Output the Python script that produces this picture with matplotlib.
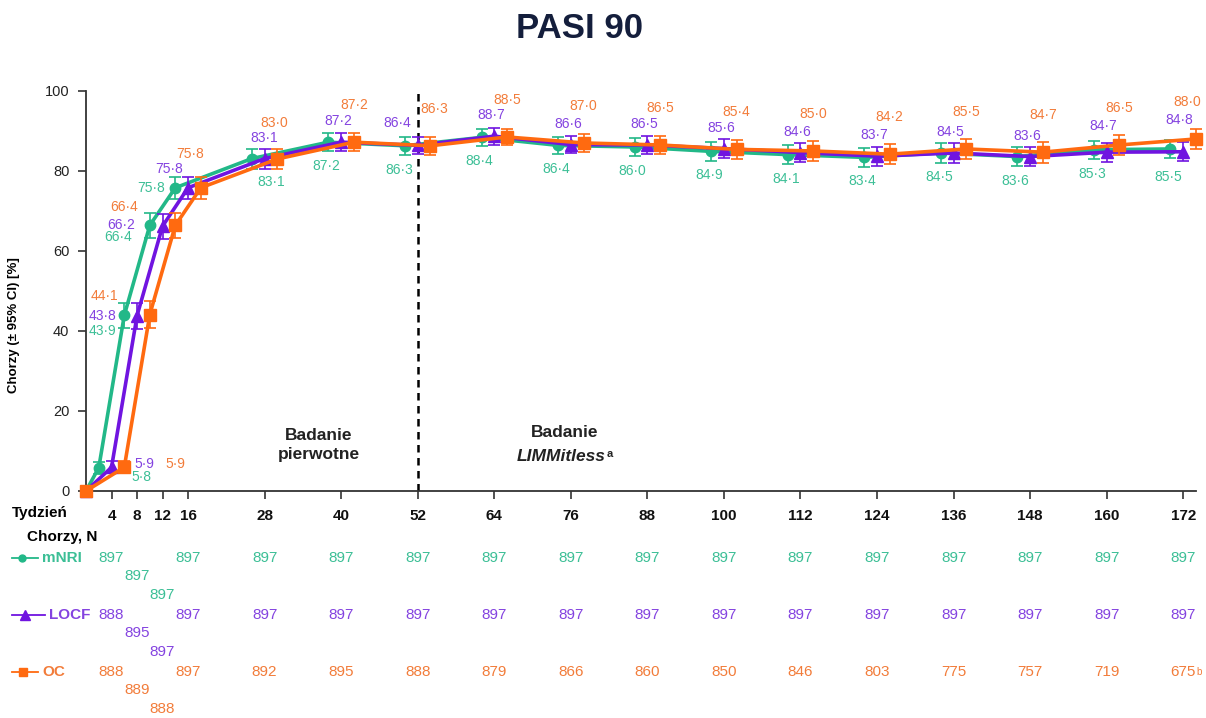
import matplotlib
matplotlib.use('Agg')
import matplotlib.pyplot as plt
from matplotlib.lines import Line2D

# PASI 90 response over time, three imputation methods
weeks = [0, 4, 8, 12, 16, 28, 40, 52, 64, 76, 88, 100, 112, 124, 136, 148, 160, 172]
mnri = [0, 5.8, 43.9, 66.4, 75.8, 83.1, 87.2, 86.3, 88.4, 86.4, 86.0, 84.9, 84.1, 83.4, 84.5, 83.6, 85.3, 85.5]
locf = [0, 5.9, 43.8, 66.2, 75.8, 83.1, 87.2, 86.4, 88.7, 86.6, 86.5, 85.6, 84.6, 83.7, 84.5, 83.6, 84.7, 84.8]
oc = [0, 5.9, 44.1, 66.4, 75.8, 83.0, 87.2, 86.3, 88.5, 87.0, 86.5, 85.4, 85.0, 84.2, 85.5, 84.7, 86.5, 88.0]
# 95% CI half widths
mnri_ci = [0, 1.5, 3.2, 3.1, 2.8, 2.5, 2.2, 2.3, 2.1, 2.2, 2.3, 2.3, 2.4, 2.4, 2.4, 2.4, 2.3, 2.3]
locf_ci = [0, 1.5, 3.3, 3.1, 2.8, 2.5, 2.2, 2.2, 2.1, 2.2, 2.2, 2.3, 2.4, 2.4, 2.4, 2.4, 2.4, 2.4]
oc_ci = [0, 1.5, 3.3, 3.1, 2.8, 2.5, 2.2, 2.3, 2.1, 2.2, 2.3, 2.4, 2.4, 2.5, 2.5, 2.6, 2.5, 2.5]

# patients at risk per week (weeks 4..172)
n_weeks = weeks[1:]
n_mnri = ['897', '897', '897', '897', '897', '897', '897', '897', '897', '897', '897', '897', '897', '897', '897', '897', '897']
n_locf = ['888', '895', '897', '897', '897', '897', '897', '897', '897', '897', '897', '897', '897', '897', '897', '897', '897']
n_oc = ['888', '889', '888', '897', '892', '895', '888', '879', '866', '860', '850', '846', '803', '775', '757', '719', '675']

GREEN = '#22b888'
GREEN_T = '#3cbf96'
PURPLE = '#7014e0'
PURPLE_T = '#8443e0'
ORANGE = '#ff6a10'
ORANGE_T = '#f27c3a'

series = [
    ('mNRI', mnri, mnri_ci, GREEN, GREEN_T, 'o', 7.5, -2, (-2, -24)),
    ('LOCF', locf, locf_ci, PURPLE, PURPLE_T, '^', 8.5, 0, (-3, 21)),
    ('OC', oc, oc_ci, ORANGE, ORANGE_T, 's', 8, 2, (0, 37)),
]

# label offsets (pixels) where the default placement is not used
label_offsets = {
    'mNRI': {1: (43, -9), 2: (-22, -16), 3: (-32, -12), 4: (-24, 0), 5: (19, -23), 7: (-6, -24), 17: (-2, -28)},
    'LOCF': {1: (33, 3), 2: (-35, 0), 3: (-41, 1), 4: (-19, 19), 5: (0, 21), 7: (-20, 22), 16: (-3, 26), 17: (-4, 32)},
    'OC': {1: (51, 3), 2: (-45, 19), 3: (-51, 18), 4: (-11, 34), 5: (-3, 36), 7: (4, 37), 17: (-9, 37)},
}

plt.rcParams['font.family'] = ['Liberation Sans', 'DejaVu Sans']

fig = plt.figure(figsize=(12.06, 7.18), dpi=100)
ax = fig.add_axes([86 / 1206, 0.3162, 1110 / 1206, 0.5571])
ax.set_xlim(0, 174)
ax.set_ylim(0, 100)

def fmt(v):
    return f'{v:.1f}'.replace('.', '·')

for z, (name, vals, ci, col, tcol, mk, ms, dodge, dflt) in enumerate(series):
    xs = [w + dodge if w > 0 else 0 for w in weeks]
    ax.errorbar(xs[1:], vals[1:], yerr=ci[1:], fmt='none', ecolor=col, elinewidth=1.2,
                capsize=4, capthick=1.2, zorder=3 + z, clip_on=False)
    ax.plot(xs, vals, color=col, lw=2.6, marker=mk, ms=ms, mec=col, mfc=col,
            zorder=3 + z, clip_on=False)
    offs = label_offsets[name]
    for i in range(1, len(weeks)):
        dx, dy = offs.get(i, dflt)
        ax.annotate(fmt(vals[i]), (xs[i], vals[i]), xytext=(dx, dy), textcoords='offset pixels',
                    ha='center', va='center', fontsize=10, color=tcol, zorder=10)

# study boundary
ax.axvline(52, color='black', lw=1.8, linestyle=(0, (3, 2.2)), zorder=2)

ax.text(36.5, 11.5, 'Badanie\npierwotne', ha='center', va='center', fontsize=12.5,
        fontweight='bold', color='#222222', linespacing=1.3)
ax.text(75, 14.5, 'Badanie', ha='center', va='center', fontsize=12.5, fontweight='bold', color='#222222')
t = ax.text(74.5, 8.5, 'LIMMitless', ha='center', va='center', fontsize=12.5, fontweight='bold',
            style='italic', color='#222222')
ax.annotate('a', xy=(1, 1), xycoords=t, xytext=(1, 0), textcoords='offset pixels',
            ha='left', va='top', fontsize=8, fontweight='bold', color='#222222')

# axes styling
for s in ['top', 'right']:
    ax.spines[s].set_visible(False)
for s in ['left', 'bottom']:
    ax.spines[s].set_color('#333333')
    ax.spines[s].set_linewidth(1.3)
ax.set_yticks([0, 20, 40, 60, 80, 100])
ax.tick_params(axis='y', length=6, width=1.2, color='#333333', pad=6, labelsize=10.5, labelcolor='#222222')
ax.set_xticks(n_weeks)
ax.set_xticklabels([str(w) for w in n_weeks], fontweight='bold', fontsize=11)
ax.tick_params(axis='x', length=6, width=1.2, color='#333333', pad=7, labelcolor='#111111')
ax.set_ylabel('Chorzy (± 95% CI) [%]', fontsize=9.5, fontweight='bold')
ax.yaxis.set_label_coords(-0.0595, 0.415)

fig.text(579 / 1206, 1 - 28 / 718, 'PASI 90', ha='center', va='center', fontsize=25,
         fontweight='bold', color='#141e3c')

def px_x(px):
    return (px - 86) / 6.372

def px_y(py):
    return (491 - py) / 4.0

ax.text(px_x(12), px_y(513), 'Tydzień', ha='left', va='center', fontsize=11, fontweight='bold', clip_on=False)
ax.text(px_x(27), px_y(537), 'Chorzy, N', ha='left', va='center', fontsize=11, fontweight='bold', clip_on=False)

# at-risk table, weeks 8 and 12 stepped down one and two lines
rows = [
    ('mNRI', n_mnri, GREEN, GREEN_T, 'o', 5, 558, 12, 38, 22, 42),
    ('LOCF', n_locf, PURPLE, PURPLE_T, '^', 7, 615, 12, 45, 25, 49),
    ('OC', n_oc, ORANGE, ORANGE_T, 's', 6, 672, 12, 38, 23, 42),
]
step = {8: 1, 12: 2}
for name, nums, col, tcol, mk, ms, ypx, x0, x1, xm, xt in rows:
    y = px_y(ypx)
    ax.add_line(Line2D([px_x(x0), px_x(x1)], [y, y], color=col, lw=1.3, clip_on=False))
    ax.add_line(Line2D([px_x(xm)], [y], marker=mk, ms=ms, color=col, clip_on=False))
    ax.text(px_x(xt), y, name, ha='left', va='center', fontsize=11, fontweight='bold',
            color=tcol, clip_on=False)
    for w, n in zip(n_weeks, nums):
        yy = px_y(ypx + 18.5 * step.get(w, 0))
        tt = ax.text(w, yy, n, ha='center', va='center', fontsize=11,
                     color=tcol, clip_on=False)
        if name == 'OC' and w == 172:
            ax.annotate('b', xy=(1, 1), xycoords=tt, xytext=(0, -2), textcoords='offset pixels',
                        ha='left', va='top', fontsize=7, color=tcol)

fig.savefig('out.png', dpi=100)
